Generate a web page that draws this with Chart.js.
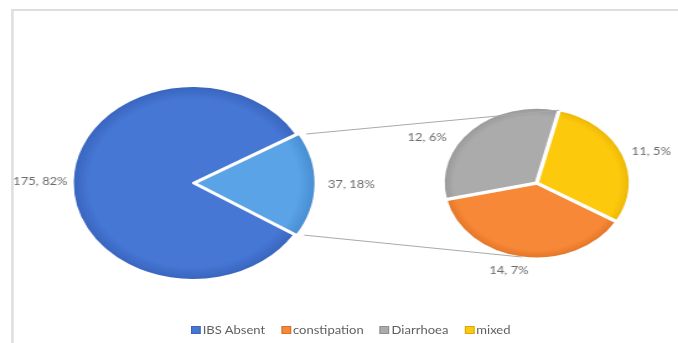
<!DOCTYPE html>
<html>
<head>
<meta charset="utf-8">
<script src="https://cdn.jsdelivr.net/npm/chart.js@4/dist/chart.umd.min.js"></script>
<style>
  html, body { margin: 0; padding: 0; background: #fff; overflow: hidden; }
  #stage {
    position: relative; width: 547px; height: 343px; overflow: hidden;
    transform: scaleX(1.2395); transform-origin: 0 0;
    font-family: Lato, "Open Sans", sans-serif;
  }
  .rule { position: absolute; background: #dedede; }
  #ruleTop { left: 9px; top: 9px; width: 538px; height: 2px; }
  #ruleLeft { left: 9px; top: 9px; width: 2px; height: 334px; }
  canvas { position: absolute; top: 0; }
  #mainPie { left: 0; z-index: 2; }
  #subPie { left: 300px; z-index: 1; }
  #legend {
    position: absolute; left: 154px; top: 324px; z-index: 3;
    display: flex; gap: 13px; font-size: 10.5px; color: #606060; white-space: nowrap;
  }
  #legend span.box {
    display: inline-block; width: 6px; height: 6px; margin-right: 1.5px;
    vertical-align: 0px; border: 0.5px solid rgba(0,0,0,0.15);
  }
</style>
</head>
<body>
<div id="stage">
  <div class="rule" id="ruleTop"></div>
  <div class="rule" id="ruleLeft"></div>
  <canvas id="subPie" width="247" height="343"></canvas>
  <canvas id="mainPie" width="547" height="343"></canvas>
  <div id="legend"></div>
</div>
<script>
// main pie: IBS absent vs IBS present (split out in the second pie)
const mainLabels = ['IBS Absent', 'IBS Present'];
const mainValues = [175, 37];
const mainPct = [82, 18];

// second pie: IBS subtypes
const subLabels = ['constipation', 'Diarrhoea', 'mixed'];
const subValues = [14, 12, 11];
const subPct = [7, 6, 5];

const mainColors = ['#4677d5', '#5aa3e6'];
const mainDark = ['#2f58ad', '#3a7fc4'];
const subColors = ['#f68838', '#ababab', '#fdc90c'];
const subDark = ['#cf6415', '#858585', '#d9a400'];

Chart.defaults.animation = false;

// radial shading so the slices get a darker rim
function shaded(bases, darks) {
  return (c) => {
    const chart = c.chart;
    const area = chart.chartArea;
    if (!area) return bases[c.dataIndex];
    const cx = (area.left + area.right) / 2;
    const cy = (area.top + area.bottom) / 2;
    const r = chart.options.radius + 8;
    const g = chart.ctx.createRadialGradient(cx, cy, 0, cx, cy, r);
    g.addColorStop(0, bases[c.dataIndex]);
    g.addColorStop(0.8, bases[c.dataIndex]);
    g.addColorStop(1, darks[c.dataIndex]);
    return g;
  };
}

// "value, pct%" labels just outside each slice
const outsideLabels = {
  id: 'outsideLabels',
  afterDatasetsDraw(chart, args, opts) {
    const ctx = chart.ctx;
    const meta = chart.getDatasetMeta(0);
    ctx.save();
    ctx.font = opts.font;
    ctx.fillStyle = opts.color;
    ctx.textAlign = 'center';
    ctx.textBaseline = 'middle';
    meta.data.forEach((arc, i) => {
      const p = arc.getProps(['x', 'y', 'startAngle', 'endAngle', 'outerRadius'], true);
      const a = (p.startAngle + p.endAngle) / 2;
      const off = arc.options.offset || 0;
      const text = opts.texts[i];
      const w = ctx.measureText(text).width;
      const h = 10;
      const d = p.outerRadius + off + opts.pad;
      const n = (opts.nudge && opts.nudge[i]) || [0, 0];
      const x = p.x + Math.cos(a) * d + Math.cos(a) * w / 2 + n[0];
      const y = p.y + Math.sin(a) * d + Math.sin(a) * h / 2 + n[1];
      ctx.fillText(text, x, y);
    });
    ctx.restore();
  }
};

const subChart = new Chart(document.getElementById('subPie'), {
  type: 'pie',
  data: {
    labels: subLabels,
    datasets: [{
      data: subValues,
      backgroundColor: shaded(subColors, subDark),
      borderColor: '#ffffff',
      borderWidth: 2.5,
      offset: 2
    }]
  },
  options: {
    responsive: false,
    radius: 75,
    rotation: 121,
    layout: { padding: { top: 23, left: 19 } },
    plugins: {
      legend: { display: false },
      tooltip: { enabled: false },
      outsideLabels: {
        font: '10.5px Lato, "Open Sans", sans-serif',
        color: '#6b6b6b',
        pad: 5,
        texts: subValues.map((v, i) => v + ', ' + subPct[i] + '%'),
        nudge: { 1: [-20, 17], 0: [-7, 2], 2: [2, 2] }
      }
    }
  },
  plugins: [outsideLabels]
});

// connector lines from the split slice to the second pie
const pieLinks = {
  id: 'pieLinks',
  afterDatasetsDraw(chart) {
    const ctx = chart.ctx;
    const arc = chart.getDatasetMeta(0).data[1];
    const p = arc.getProps(['x', 'y', 'startAngle', 'endAngle', 'outerRadius'], true);
    const mid = (p.startAngle + p.endAngle) / 2;
    const off = arc.options.offset || 0;
    const cx = p.x + Math.cos(mid) * off;
    const cy = p.y + Math.sin(mid) * off;

    const dx = subChart.canvas.offsetLeft - chart.canvas.offsetLeft;
    const subMeta = subChart.getDatasetMeta(0).data;
    const top = subMeta[1].getProps(['x', 'y', 'endAngle', 'outerRadius'], true);
    const bot = subMeta[0].getProps(['x', 'y', 'startAngle', 'endAngle', 'outerRadius'], true);
    const botA = (bot.startAngle + bot.endAngle) / 2;

    ctx.save();
    ctx.strokeStyle = '#a9a9a9';
    ctx.lineWidth = 1;
    ctx.beginPath();
    ctx.moveTo(cx + Math.cos(p.startAngle) * p.outerRadius, cy + Math.sin(p.startAngle) * p.outerRadius);
    ctx.lineTo(dx + top.x + Math.cos(top.endAngle) * top.outerRadius, top.y + Math.sin(top.endAngle) * top.outerRadius);
    ctx.moveTo(cx + Math.cos(p.endAngle) * p.outerRadius, cy + Math.sin(p.endAngle) * p.outerRadius);
    ctx.lineTo(dx + bot.x + Math.cos(botA) * bot.outerRadius, bot.y + Math.sin(botA) * bot.outerRadius);
    ctx.stroke();
    ctx.restore();
  }
};

new Chart(document.getElementById('mainPie'), {
  type: 'pie',
  data: {
    labels: mainLabels,
    datasets: [{
      data: mainValues,
      backgroundColor: shaded(mainColors, mainDark),
      borderColor: '#ffffff',
      borderWidth: 2,
      offset: [0, 8]
    }]
  },
  options: {
    responsive: false,
    radius: 97,
    rotation: 122.4,
    layout: { padding: { top: 23, left: 0, right: 236, bottom: 0 } },
    plugins: {
      legend: { display: false },
      tooltip: { enabled: false },
      outsideLabels: {
        font: '10.5px Lato, "Open Sans", sans-serif',
        color: '#6b6b6b',
        pad: 4,
        texts: mainValues.map((v, i) => v + ', ' + mainPct[i] + '%')
      }
    }
  },
  plugins: [outsideLabels, pieLinks]
});

// legend: the absent group plus the three subtypes
const legendNames = [mainLabels[0]].concat(subLabels);
const legendColors = [mainColors[0]].concat(subColors);
document.getElementById('legend').innerHTML = legendNames.map((name, i) =>
  '<span><span class="box" style="background:' + legendColors[i] + '"></span>' + name + '</span>'
).join('');
</script>
</body>
</html>
